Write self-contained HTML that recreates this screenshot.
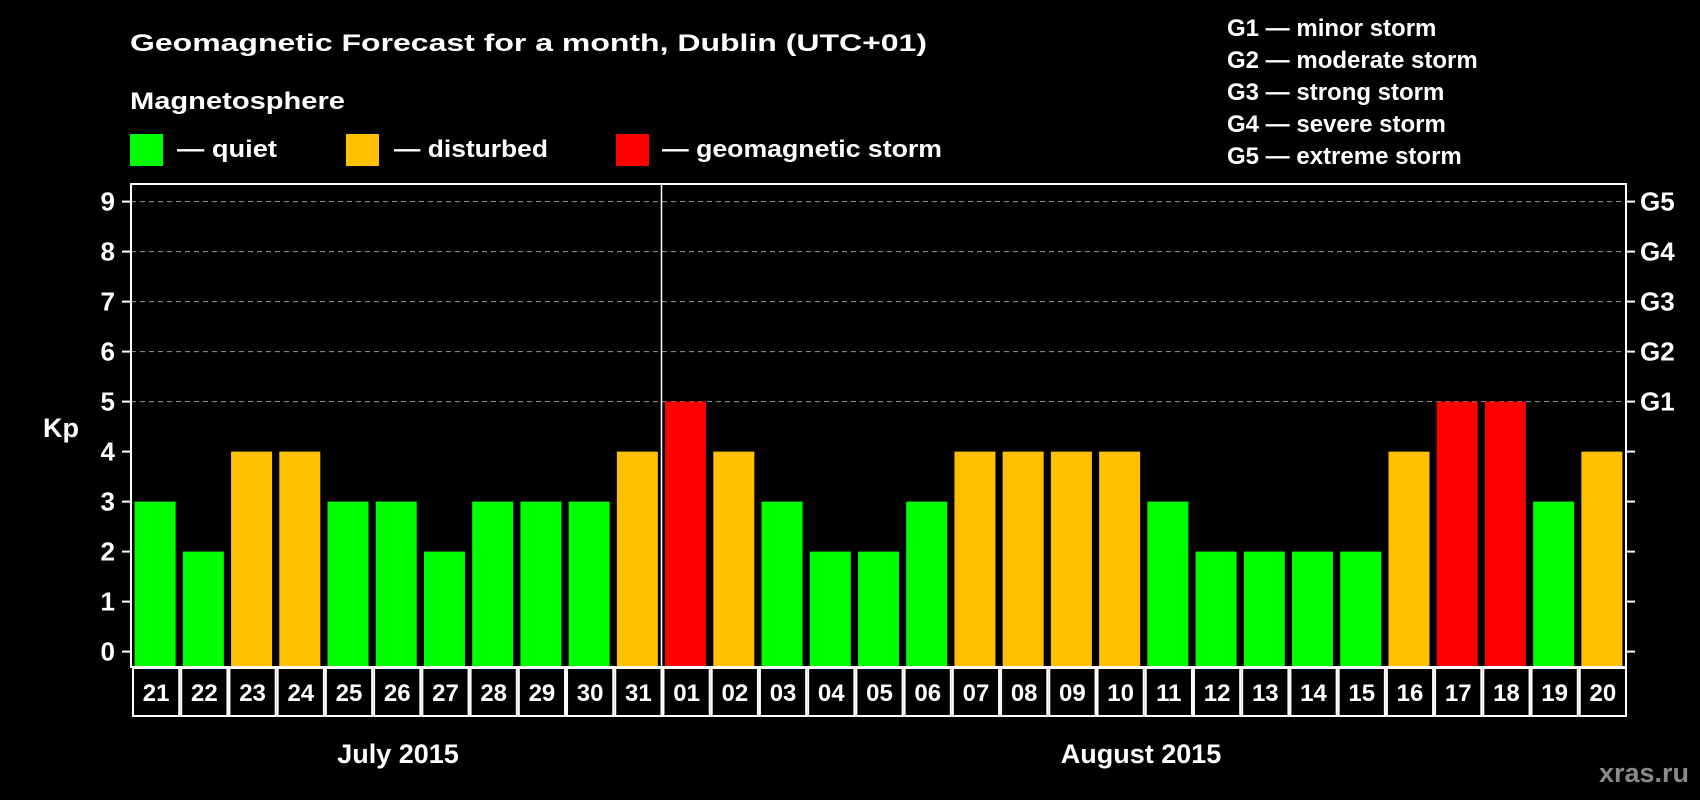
<!DOCTYPE html>
<html><head><meta charset="utf-8"><style>
html,body{margin:0;padding:0;background:#000;}
svg{display:block;}
text{font-family:"Liberation Sans",Arial,sans-serif;font-weight:bold;fill:#fff;}
</style></head><body>
<svg id="chart" width="1700" height="800" viewBox="0 0 1700 800" xmlns="http://www.w3.org/2000/svg">
<rect x="0" y="0" width="1700" height="800" fill="#000"/>
<text x="130" y="51" font-size="24" textLength="797" lengthAdjust="spacingAndGlyphs">Geomagnetic Forecast for a month, Dublin (UTC+01)</text>
<text x="130" y="109" font-size="24" textLength="215" lengthAdjust="spacingAndGlyphs">Magnetosphere</text>
<g><rect x="130" y="134" width="33" height="32" fill="#00ff00"/><text x="177" y="157" font-size="24" textLength="100" lengthAdjust="spacingAndGlyphs">— quiet</text></g>
<g><rect x="346" y="134" width="33" height="32" fill="#ffc000"/><text x="394" y="157" font-size="24" textLength="154" lengthAdjust="spacingAndGlyphs">— disturbed</text></g>
<g><rect x="616" y="134" width="33" height="32" fill="#ff0000"/><text x="662" y="157" font-size="24" textLength="280" lengthAdjust="spacingAndGlyphs">— geomagnetic storm</text></g>
<g font-size="24">
<text x="1227" y="36">G1 — minor storm</text>
<text x="1227" y="68">G2 — moderate storm</text>
<text x="1227" y="100">G3 — strong storm</text>
<text x="1227" y="132">G4 — severe storm</text>
<text x="1227" y="164">G5 — extreme storm</text>
</g>
<text x="43" y="437" font-size="27">Kp</text>
<g id="grid"></g><g id="bars"></g><g id="axes"></g><g id="dates"></g>
<text x="398" y="763" font-size="27" text-anchor="middle">July 2015</text>
<text x="1141" y="763" font-size="27" text-anchor="middle">August 2015</text>
<text x="1689" y="782" font-size="27" text-anchor="end" style="fill:#8a8a8a">xras.ru</text>
</svg>
<script>
const dates = ["21","22","23","24","25","26","27","28","29","30","31","01","02","03","04","05","06","07","08","09","10","11","12","13","14","15","16","17","18","19","20"];
const kpValues = [3,2,4,4,3,3,2,3,3,3,4,5,4,3,2,2,3,4,4,4,4,3,2,2,2,2,4,5,5,3,4];
const yTicks = [0,1,2,3,4,5,6,7,8,9];
const gLabels = ["G1","G2","G3","G4","G5"];
const NS="http://www.w3.org/2000/svg";
const L=131,R=1626,T=184,B=667;
const slot=(R-L)/dates.length;
function yScale(v){return 651.6-50*v;}
function xScale(i){return L+i*slot;}
function mk(tag,attrs,parent){const e=document.createElementNS(NS,tag);for(const k in attrs)e.setAttribute(k,attrs[k]);parent.appendChild(e);return e;}
const grid=document.getElementById('grid'),bars=document.getElementById('bars'),axes=document.getElementById('axes'),dg=document.getElementById('dates');
yTicks.forEach(v=>{
  const y=yScale(v);
  if(v>=5){const g=mk('line',{x1:L,x2:R,y1:y,y2:y,stroke:'#999','stroke-width':1,'stroke-dasharray':'5,4'},grid);
    
    }
  const t1=mk('line',{x1:L-9,x2:L,y1:y,y2:y,stroke:'#fff','stroke-width':2},axes);
  
  
  const t2=mk('line',{x1:R,x2:R+9,y1:y,y2:y,stroke:'#fff','stroke-width':2},axes);
  
  
  const lb=mk('text',{x:115,y:y+9,'font-size':26,'text-anchor':'end'},axes);lb.textContent=v;
  
  
  if(v>=5){const gl=mk('text',{x:1640,y:y+9,'font-size':26},axes);gl.textContent=gLabels[v-5];
    
    }
});
kpValues.forEach((v,i)=>{
  const c=v>=5?'#ff0000':(v>=4?'#ffc000':'#00ff00');
  const x=xScale(i)+(slot-41)/2;
  const b=mk('rect',{x:x,y:yScale(v),width:41,height:B-yScale(v),fill:c},bars);
  
  
  const bx=mk('rect',{x:xScale(i)+2,y:B+1,width:slot-2,height:48,fill:'none',stroke:'#fff','stroke-width':2},dg);
  
  
  const dt=mk('text',{x:xScale(i)+slot/2+1,y:B+34,'font-size':24,'text-anchor':'middle'},dg);dt.textContent=dates[i];
  
  
});
const frame=mk('rect',{x:L,y:T,width:R-L,height:B-T,fill:'none',stroke:'#fff','stroke-width':2},axes);


const div=mk('line',{x1:xScale(11),x2:xScale(11),y1:T,y2:B,stroke:'#fff','stroke-width':1.5},axes);


</script>
</body></html>
